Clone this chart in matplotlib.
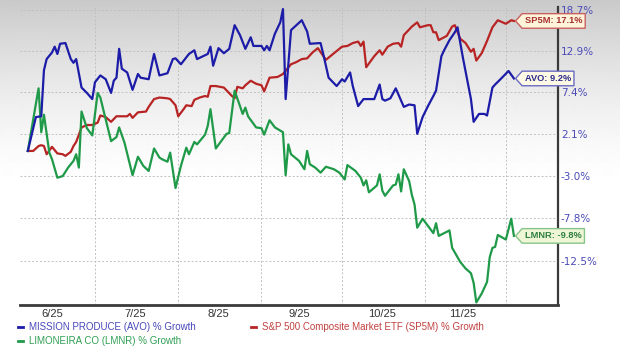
import numpy as np
import pandas as pd
import matplotlib
matplotlib.use("Agg")
import matplotlib.pyplot as plt
from matplotlib.path import Path
from matplotlib.lines import Line2D

YEAR = "2025-"

# ---------------- data (percent growth) ----------------
avo_dates = ["06-06", "06-09", "06-11", "06-12", "06-13", "06-15", "06-16", "06-17", "06-18", "06-20",
             "06-22", "06-23", "06-24", "06-26", "06-28", "06-30", "07-01", "07-03", "07-05", "07-07",
             "07-08", "07-09", "07-10", "07-11", "07-13", "07-15", "07-17", "07-18", "07-21", "07-23",
             "07-25", "07-28", "07-30", "07-31", "08-02", "08-05", "08-07", "08-08", "08-12", "08-13",
             "08-14", "08-16", "08-18", "08-20", "08-22", "08-24", "08-26", "08-28", "08-29", "09-01",
             "09-02", "09-03", "09-04", "09-06", "09-08", "09-09", "09-10", "09-12", "09-16", "09-18",
             "09-19", "09-23", "09-24", "09-26", "09-29", "10-01", "10-02", "10-04", "10-05", "10-07",
             "10-09", "10-13", "10-15", "10-16", "10-17", "10-19", "10-21", "10-24", "10-26", "10-28",
             "10-29", "10-31", "11-02", "11-04", "11-05", "11-07", "11-08", "11-10", "11-12", "11-13",
             "11-15", "11-18", "11-19", "11-21", "11-23", "11-24", "11-26", "11-27", "11-29", "12-02",
             "12-04"]
avo_vals = [0.0, 4.2, 4.3, 10.3, 11.8, 12.7, 13.5, 12.5, 13.9, 14.0,
            11.8, 11.3, 11.8, 8.0, 7.3, 6.5, 8.7, 9.6, 9.1, 7.3,
            8.9, 9.3, 13.2, 10.5, 10.0, 7.7, 9.8, 9.3, 9.1, 12.5,
            9.6, 9.9, 11.8, 11.9, 11.1, 12.5, 13.0, 11.8, 12.5, 13.5,
            10.9, 13.3, 12.6, 13.2, 16.5, 15.1, 13.2, 14.8, 13.6, 13.6,
            13.0, 13.6, 13.0, 15.3, 16.9, 18.8, 6.5, 15.8, 17.2, 15.6,
            13.9, 14.0, 12.5, 9.3, 8.2, 9.1, 8.8, 10.0, 8.2, 5.6,
            6.5, 6.5, 8.4, 6.5, 6.3, 6.6, 7.9, 5.5, 5.8, 5.7,
            2.1, 4.2, 5.6, 6.9, 7.6, 12.2, 13.0, 14.4, 15.5, 16.2,
            12.0, 6.5, 3.6, 4.6, 4.6, 4.4, 8.0, 8.4, 9.1, 10.2,
            9.2]

sp5m_dates = ["06-06", "06-08", "06-10", "06-11", "06-12", "06-13", "06-15", "06-17", "06-19", "06-20",
              "06-22", "06-23", "06-24", "06-26", "06-28", "06-30", "07-02", "07-03", "07-05", "07-07",
              "07-09", "07-11", "07-13", "07-14", "07-15", "07-17", "07-20", "07-21", "07-23", "07-25",
              "07-28", "07-29", "07-31", "08-01", "08-03", "08-04", "08-06", "08-07", "08-09", "08-11",
              "08-12", "08-13", "08-15", "08-18", "08-21", "08-22", "08-23", "08-25", "08-26", "08-28",
              "08-30", "09-01", "09-02", "09-04", "09-07", "09-09", "09-12", "09-14", "09-16", "09-18",
              "09-20", "09-22", "09-25", "09-28", "10-01", "10-03", "10-05", "10-07", "10-08", "10-09",
              "10-10", "10-13", "10-15", "10-16", "10-18", "10-20", "10-22", "10-23", "10-24", "10-27",
              "10-29", "10-30", "11-02", "11-03", "11-04", "11-05", "11-06", "11-09", "11-11", "11-12",
              "11-14", "11-16", "11-18", "11-19", "11-20", "11-22", "11-24", "11-26", "11-28", "12-01",
              "12-03", "12-04"]
sp5m_vals = [0.0, 0.0, 0.6, 0.7, 0.6, -0.4, 0.5, -0.3, -0.4, -0.6,
             -0.1, 0.6, 1.1, 2.9, 3.2, 3.2, 3.5, 4.4, 4.2, 3.6,
             4.3, 4.3, 4.3, 4.6, 4.1, 4.8, 4.9, 5.5, 6.5, 6.7,
             6.6, 6.5, 5.7, 4.3, 5.2, 5.7, 5.6, 6.4, 6.7, 6.9,
             6.8, 8.2, 8.2, 8.0, 6.9, 6.6, 8.1, 7.9, 8.3, 8.9,
             8.5, 8.3, 7.5, 9.3, 9.4, 9.8, 11.1, 11.4, 11.8, 11.9,
             12.7, 13.3, 11.7, 12.6, 13.5, 13.6, 14.0, 14.2, 13.6, 14.2,
             10.7, 12.2, 13.0, 12.4, 13.5, 13.9, 14.0, 13.5, 15.1, 16.3,
             16.9, 16.2, 16.5, 16.5, 15.5, 15.5, 14.4, 15.0, 16.3, 16.5,
             14.6, 14.0, 12.8, 13.2, 11.6, 12.6, 14.3, 16.2, 17.2, 16.7,
             17.2, 17.1]

lmnr_dates = ["06-06", "06-08", "06-10", "06-11", "06-12", "06-14", "06-15", "06-17", "06-19", "06-21",
              "06-23", "06-24", "06-25", "06-26", "06-28", "06-30", "07-02", "07-03", "07-05", "07-07",
              "07-09", "07-10", "07-12", "07-15", "07-17", "07-19", "07-21", "07-23", "07-25", "07-26",
              "07-28", "07-29", "07-31", "08-02", "08-04", "08-05", "08-07", "08-08", "08-11", "08-12",
              "08-13", "08-15", "08-17", "08-19", "08-20", "08-22", "08-24", "08-25", "08-26", "08-27",
              "08-30", "09-01", "09-02", "09-04", "09-06", "09-09", "09-10", "09-11", "09-12", "09-15",
              "09-17", "09-18", "09-19", "09-21", "09-23", "09-25", "09-28", "09-30", "10-02", "10-03",
              "10-06", "10-08", "10-09", "10-10", "10-11", "10-14", "10-15", "10-16", "10-17", "10-20",
              "10-21", "10-22", "10-23", "10-24", "10-26", "10-27", "10-28", "10-29", "10-31", "11-02",
              "11-04", "11-05", "11-06", "11-08", "11-10", "11-11", "11-14", "11-16", "11-18", "11-19",
              "11-20", "11-22", "11-24", "11-25", "11-26", "11-27", "11-28", "12-01", "12-03", "12-04"]
lmnr_vals = [0.0, 3.9, 7.9, 2.3, 4.5, -0.2, -1.0, -3.2, -3.0, -2.0,
             -1.2, -0.4, -2.0, 4.9, 2.8, 1.9, 7.3, 6.7, 3.9, 1.2,
             1.7, 2.9, 1.0, -2.9, -0.7, -1.8, -2.4, 0.3, -0.8, -1.0,
             -1.3, -0.2, -4.4, -1.8, 0.4, -0.4, 1.1, 0.8, 2.0, 3.1,
             5.2, 0.3, 1.2, 2.1, 2.2, 7.6, 5.6, 4.6, 5.4, 4.3,
             2.9, 2.8, 2.0, 3.8, 2.9, 2.3, -2.9, 0.8, -0.4, -1.2,
             -2.2, 0.0, -1.6, -2.0, -2.6, -1.9, -2.2, -2.6, -3.4, -1.7,
             -2.4, -3.2, -4.1, -3.5, -4.9, -4.1, -2.8, -4.7, -5.3, -4.1,
             -4.0, -2.8, -4.8, -2.2, -3.6, -5.2, -6.3, -8.9, -7.9, -8.7,
             -9.5, -8.4, -9.8, -9.5, -9.2, -11.1, -12.6, -13.3, -13.8, -14.8,
             -16.8, -15.9, -14.7, -12.1, -11.1, -11.0, -9.7, -10.2, -7.9, -9.8]

y_ticks = [18.7, 12.9, 7.4, 2.1, -3.0, -7.8, -12.5]
y_tick_labels = ["18.7%", "12.9%", "7.4%", "2.1%", "-3.0%", "-7.8%", "-12.5%"]
x_tick_labels = ["6/25", "7/25", "8/25", "9/25", "10/25", "11/25"]
x_label_dates = ["2025-06-15", "2025-07-16", "2025-08-16", "2025-09-15", "2025-10-16", "2025-11-15"]
month_starts = ["2025-07-01", "2025-08-01", "2025-09-01", "2025-10-01", "2025-11-01", "2025-12-01"]

legend_labels = ["MISSION PRODUCE (AVO) % Growth",
                 "LIMONEIRA CO (LMNR) % Growth",
                 "S&P 500 Composite Market ETF (SP5M) % Growth"]

# ---------------- style ----------------
C_AVO, C_SP, C_LM = "#1c1ca8", "#b82424", "#1f9a48"
T_AVO, T_SP, T_LM = "#4848bb", "#c24040", "#2f9f52"


def to_dt(lst):
    return pd.to_datetime([YEAR + s for s in lst])


fig = plt.figure(figsize=(6.2, 3.53), dpi=100)
fig.patch.set_facecolor("white")

# background gradient
bg = fig.add_axes([0, 0, 1, 1], zorder=-10)
bg.axis("off")
ypix = np.arange(353)
g = 1 - 0.21 * np.clip(1 - ypix / 190.0, 0, 1) ** 1.5
bg.imshow(g[:, None], aspect="auto", cmap="gray", vmin=0, vmax=1,
          extent=[0, 1, 0, 1], origin="upper", interpolation="bilinear")

ax = fig.add_axes([20 / 620, 48 / 353, 538 / 620, 298 / 353])
ax.set_facecolor("none")


def fwd(v):
    return np.log1p(np.asarray(v, dtype=float) / 100.0)


def inv(u):
    return np.expm1(np.asarray(u, dtype=float)) * 100.0


ax.set_yscale("function", functions=(fwd, inv))

ax.plot(to_dt(sp5m_dates), sp5m_vals, color=C_SP, lw=1.6, zorder=3)
ax.plot(to_dt(lmnr_dates), lmnr_vals, color=C_LM, lw=1.6, zorder=3.1)
ax.plot(to_dt(avo_dates), avo_vals, color=C_AVO, lw=1.6, zorder=3.2)

ax.set_ylim(-17.06, 19.1)
ax.set_xlim(pd.Timestamp("2025-06-03 02:00"), pd.Timestamp("2025-12-20 10:00"))

ax.yaxis.tick_right()
ax.set_yticks(y_ticks, labels=y_tick_labels)
ax.tick_params(axis="y", which="both", length=0, pad=2, labelsize=7.5, labelcolor="#4a4ab8")
ax.set_xticks(pd.to_datetime(month_starts), labels=[""] * len(month_starts))
ax.set_xticks(pd.to_datetime(x_label_dates), labels=x_tick_labels, minor=True)
ax.tick_params(axis="x", which="both", length=0, pad=3, labelsize=8, labelcolor="#333333")
for lab in ax.get_xticklabels(minor=True):
    lab.set_family("Liberation Sans")

ax.grid(True, which="major", axis="both", color="#c0c0c0", lw=0.7, ls=(0, (2, 2)))

for s in ["left", "top"]:
    ax.spines[s].set_visible(False)
ax.spines["right"].set_color("#3a3a3a")
ax.spines["right"].set_linewidth(1.6)
ax.spines["bottom"].set_color("#3a3a3a")
ax.spines["bottom"].set_linewidth(2.0)


# tag shaped callouts
def tag_box(x0, y0, width, height, mutation_size):
    pad = mutation_size * 0.3
    width = width + 2 * pad
    height = height + 2 * pad
    x0, y0 = x0 - pad, y0 - pad
    x1, y1 = x0 + width, y0 + height
    tip = height * 0.45
    return Path([(x0, y0), (x1, y0), (x1, y1), (x0, y1),
                 (x0 - tip, (y0 + y1) / 2), (x0, y0), (x0, y0)], closed=True)


tags = [
    ("SP5M", sp5m_dates, sp5m_vals, "#a83030", "#fdf4da", "#c86060"),
    ("AVO", avo_dates, avo_vals, "#2c2c8c", "#fdf9e4", "#6a6ac4"),
    ("LMNR", lmnr_dates, lmnr_vals, "#2f7f3f", "#eef6d6", "#88c488"),
]
for name, d, v, tc, fc, ec in tags:
    ax.annotate(f"{name}: {v[-1]:.1f}%", xy=(to_dt(d)[-1], v[-1]), xytext=(11, 0),
                textcoords="offset pixels", va="center", ha="left",
                fontsize=6.7, fontweight="bold", family="Liberation Sans", color=tc,
                bbox=dict(boxstyle=tag_box, fc=fc, ec=ec, lw=1.0),
                annotation_clip=False, zorder=6)

# legend
handles = [Line2D([], [], color=C_AVO, lw=2),
           Line2D([], [], color=C_LM, lw=2),
           Line2D([], [], color=C_SP, lw=2)]
leg = ax.legend(handles, legend_labels, loc="upper left",
                bbox_to_anchor=(18 / 620, 1 - 322 / 353), bbox_transform=fig.transFigure,
                ncol=2, frameon=False, handlelength=0.5, handletextpad=0.6,
                columnspacing=5.7, borderpad=0, borderaxespad=0, labelspacing=0.45,
                prop={"family": "Liberation Sans", "size": 7})
for t, c in zip(leg.get_texts(), [T_AVO, T_LM, T_SP]):
    t.set_color(c)

fig.savefig("out.png", dpi=100)
